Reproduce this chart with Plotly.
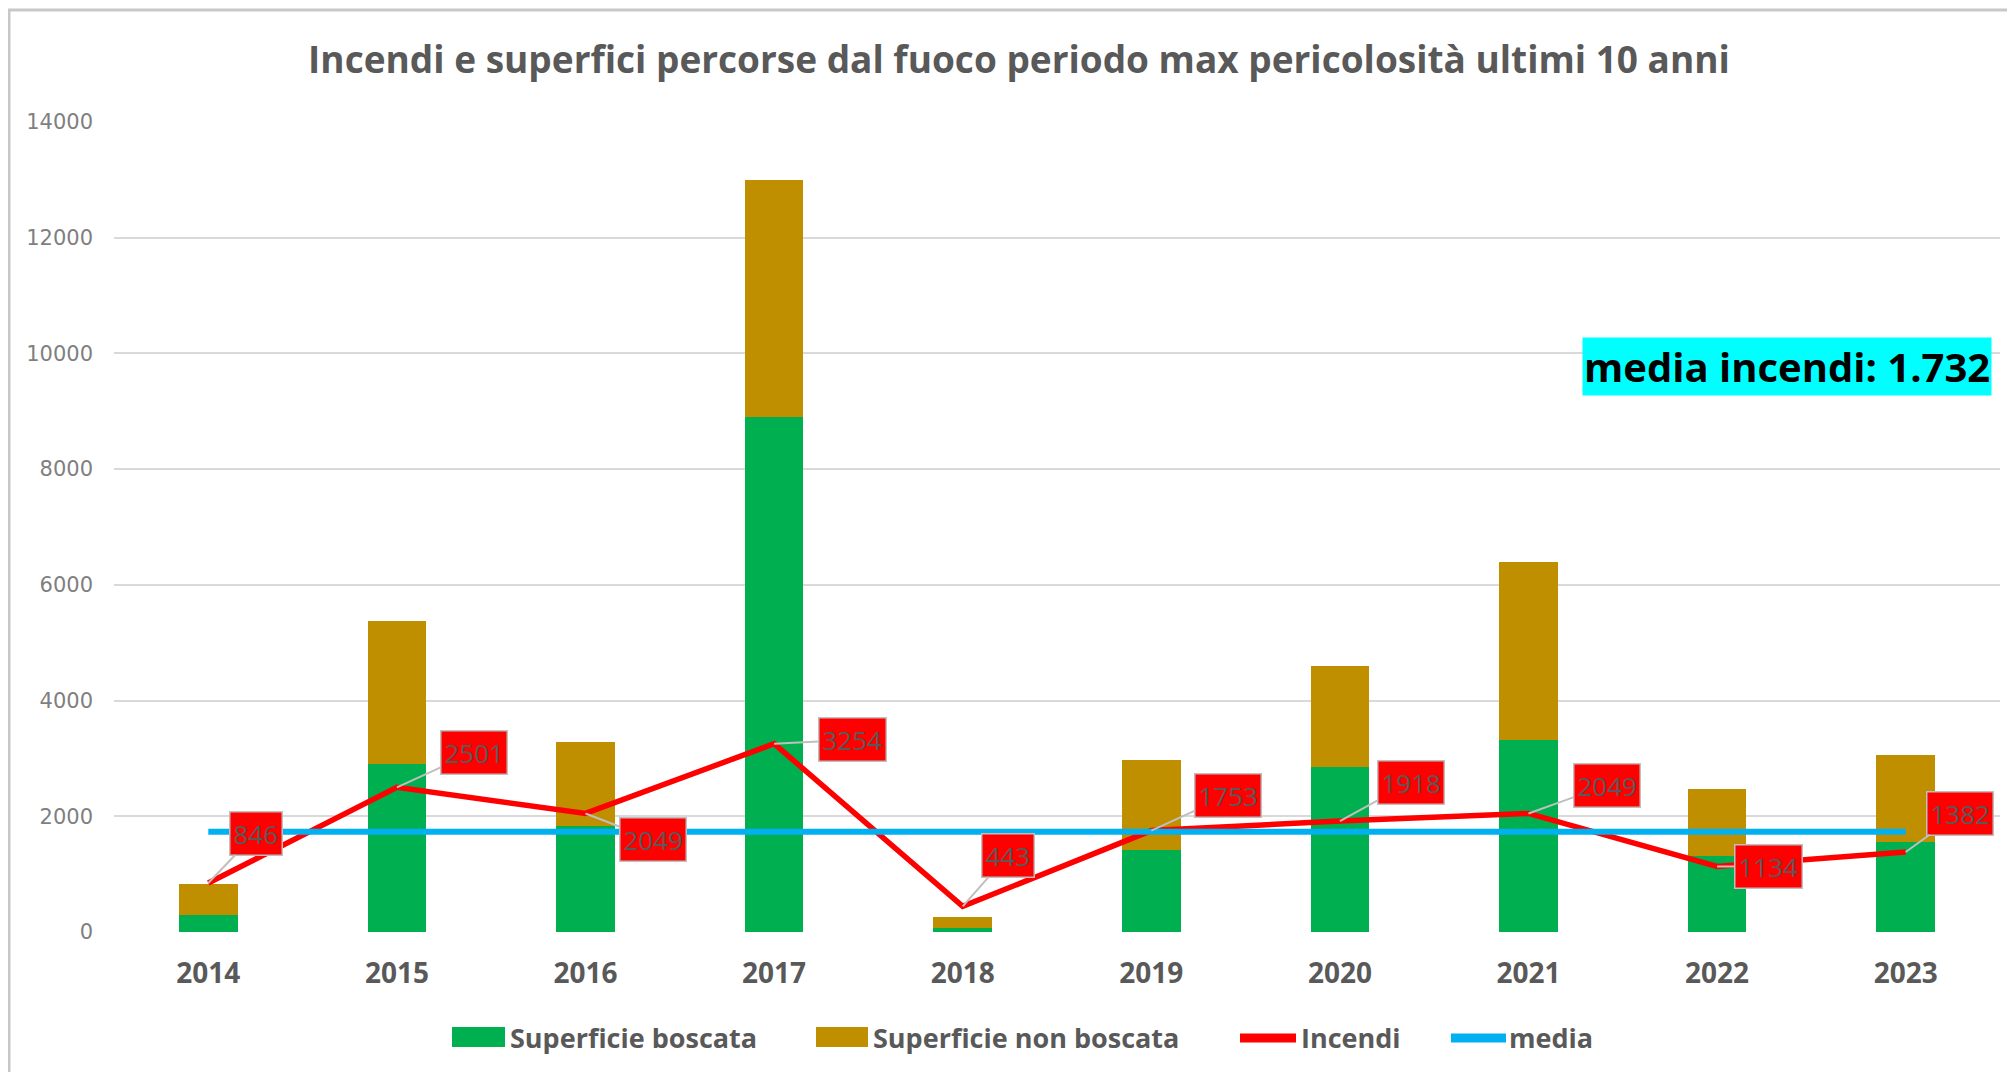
import plotly.graph_objects as go

# ---- data ----
years = ["2014", "2015", "2016", "2017", "2018", "2019", "2020", "2021", "2022", "2023"]
sup_boscata = [300, 2900, 1830, 8900, 75, 1410, 2850, 3320, 1320, 1560]
sup_non_boscata = [530, 2480, 1450, 4100, 185, 1570, 1750, 3080, 1160, 1500]
incendi = [846, 2501, 2049, 3254, 443, 1753, 1918, 2049, 1134, 1382]
media_value = 1732
media = [media_value] * len(years)
label_offsets = [(48, -50), (77, -35), (67, 26), (78, -4), (45, -51),
                 (77, -35), (71, -39), (78, -28), (51, 0), (54, -39)]
legend_names = ["Superficie boscata", "Superficie non boscata", "Incendi", "media"]

GREEN = "#00B050"
GOLD = "#BF8F00"
RED = "#FF0000"
BLUE = "#00B0F0"
TXT = "#595959"

# page geometry: the page body adds an 8px offset
OFF = 8
FW, FH = 2015 - 2 * OFF, 1080 - 2 * OFF
# plot-area in page pixels
L, R, T, B = 114, 2000, 122, 932
W, H = R - L, B - T

def px_x(x):
    return (x - L) / W

def px_y(y):
    return (B - y) / H

fig = go.Figure()
fig.add_trace(go.Bar(x=years, y=sup_boscata, name=legend_names[0],
                     marker=dict(color=GREEN, line=dict(width=0))))
fig.add_trace(go.Bar(x=years, y=sup_non_boscata, name=legend_names[1],
                     marker=dict(color=GOLD, line=dict(width=0))))
fig.add_trace(go.Scatter(x=years, y=incendi, name=legend_names[2], mode="lines",
                         line=dict(color=RED, width=5.5)))
fig.add_trace(go.Scatter(x=years, y=media, name=legend_names[3], mode="lines",
                         line=dict(color=BLUE, width=6)))

annotations = []
for i, (v, (ax, ay)) in enumerate(zip(incendi, label_offsets)):
    annotations.append(dict(
        x=i, y=v, xref="x", yref="y", text=str(v), showarrow=True,
        ax=ax, ay=ay, arrowhead=0, arrowwidth=2, arrowcolor="#BFBFBF",
        bgcolor=RED, bordercolor="#BFBFBF", borderwidth=1.5, borderpad=3,
        font=dict(family="Open Sans", size=26, color=TXT)))

annotations.append(dict(
    x=px_x(1992), y=px_y(366), xref="paper", yref="paper",
    xanchor="right", yanchor="middle", showarrow=False,
    text="<b>media incendi: 1.732</b>", bgcolor="#00FFFF", borderpad=1,
    font=dict(family="Open Sans", size=40, color="#000000")))

# ---- legend drawn as swatches + texts (styled like the original) ----
LEG_Y = 1037
shapes = [dict(type="rect", xref="paper", yref="paper", layer="below",
               x0=px_x(9), x1=px_x(2030), y0=px_y(1100), y1=px_y(10),
               fillcolor="#FFFFFF", line=dict(color="#C8C8C8", width=3))]
swatches = [("rect", GREEN, 452, 505, 509), ("rect", GOLD, 816, 868, 872),
            ("line", RED, 1240, 1296, 1300), ("line", BLUE, 1451, 1506, 1508)]
for name, (kind, color, x0, x1, tx) in zip(legend_names, swatches):
    if kind == "rect":
        shapes.append(dict(type="rect", xref="paper", yref="paper",
                           x0=px_x(x0), x1=px_x(x1), y0=px_y(LEG_Y + 10), y1=px_y(LEG_Y - 10),
                           fillcolor=color, line=dict(width=0)))
    else:
        shapes.append(dict(type="line", xref="paper", yref="paper",
                           x0=px_x(x0), x1=px_x(x1), y0=px_y(LEG_Y + 1), y1=px_y(LEG_Y + 1),
                           line=dict(color=color, width=9)))
    annotations.append(dict(
        x=px_x(tx), y=px_y(LEG_Y), xref="paper", yref="paper",
        xanchor="left", yanchor="middle", showarrow=False, text=name,
        borderpad=0, font=dict(family="Open Sans", size=27, color=TXT, weight="bold")))

fig.update_layout(
    width=FW, height=FH,
    margin=dict(l=L - OFF, r=FW - (R - OFF), t=T - OFF, b=FH - (B - OFF)),
    paper_bgcolor="#FFFFFF", plot_bgcolor="#FFFFFF",
    barmode="stack", bargap=0.69,
    title=dict(text="<b>Incendi e superfici percorse dal fuoco periodo max pericolosità ultimi 10 anni</b>",
               x=(1019 - OFF) / FW, xanchor="center", y=1 - (60 - OFF) / FH, yanchor="middle",
               font=dict(family="Open Sans", size=37, color=TXT)),
    xaxis=dict(type="category", range=[-0.5, len(years) - 0.5], autorange=False,
               showgrid=False, zeroline=False, showline=False, ticks="",
               tickfont=dict(family="Open Sans", size=28, color=TXT, weight="bold"),
               ticklabelstandoff=22),
    yaxis=dict(range=[0, 14000], autorange=False, dtick=2000, tickformat="d",
               showgrid=True, gridcolor="#D9D9D9",
               gridwidth=2, zeroline=False, showline=False, ticks="",
               tickfont=dict(family="DejaVu Sans", size=21, color="#7F7F7F"),
               ticklabelstandoff=20),
    annotations=annotations,
    shapes=shapes,
    showlegend=False,
)

fig.write_html("out.html")
